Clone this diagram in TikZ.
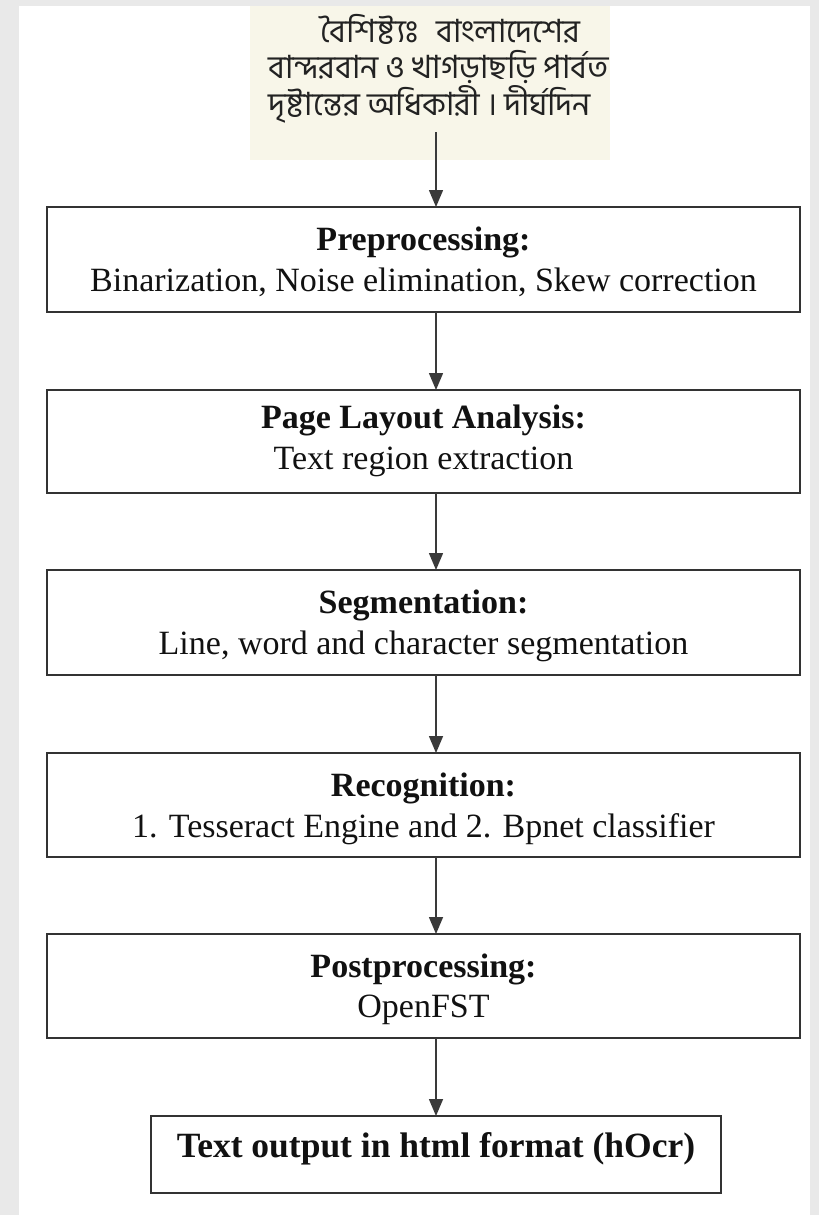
\documentclass[tikz,border=0pt]{standalone}
\usepackage{fontspec}
\setmainfont{Liberation Serif}
\newfontfamily\bnfont[Script=Bengali]{Hind Siliguri}
\usetikzlibrary{arrows.meta}
\definecolor{bggray}{HTML}{E9E9E9}
\definecolor{beige}{HTML}{F8F6E9}
\definecolor{boxline}{HTML}{333333}
\definecolor{arrline}{HTML}{3A3A3A}
\definecolor{txt}{HTML}{111111}
\definecolor{bntxt}{HTML}{222222}
\tikzset{
  stagebox/.style={draw=boxline, line width=2pt, inner sep=0pt, outer sep=0pt,
    anchor=north west, minimum width=753pt},
  titletext/.style={anchor=base, inner sep=0pt, text=txt,
    font=\fontsize{34}{40}\selectfont\bfseries},
  bodytext/.style={anchor=base, inner sep=0pt, text=txt,
    font=\fontsize{34}{40}\selectfont},
  bntext/.style={anchor=base west, inner sep=0pt, text=bntxt,
    font=\fontsize{32}{36}\bnfont},
  flowarrow/.style={draw=arrline, line width=1.5pt,
    -{Triangle[length=17pt,width=14pt]}},
}
\begin{document}
\begin{tikzpicture}[x=1pt,y=-1pt]
\useasboundingbox (0,0) rectangle (819,1215);
\fill[bggray] (0,0) rectangle (819,1215);
\fill[white] (19,6) rectangle (810,1215);

% source image
\node[fill=beige, inner sep=0pt, anchor=north west, minimum width=360pt, minimum height=154pt] (src) at (250,6) {};
\node[bntext] (bn1) at (320,43) {বৈশিষ্ট্যঃ\hspace{10pt} বাংলাদেশের};
\node[bntext] (bn2) at (268,78) {বান্দরবান ও খাগড়াছড়ি পার্বত};
\node[bntext] (bn3) at (268,115) {দৃষ্টান্তের অধিকারী । দীর্ঘদিন};
\coordinate (a0) at (436,132);
\coordinate (ax) at (436,0);

% boxes
\node[stagebox, minimum height=105pt] (b1) at (47,207) {};
\node[titletext] (t1) at (423.5,250) {Preprocessing:};
\node[bodytext] (d1) at (423.5,291) {Binarization, Noise elimination, Skew correction};

\node[stagebox, minimum height=103pt] (b2) at (47,390) {};
\node[titletext] (t2) at (423.5,428) {Page Layout Analysis:};
\node[bodytext] (d2) at (423.5,469) {Text region extraction};

\node[stagebox, minimum height=105pt] (b3) at (47,570) {};
\node[titletext] (t3) at (423.5,613) {Segmentation:};
\node[bodytext] (d3) at (423.5,654) {Line, word and character segmentation};

\node[stagebox, minimum height=104pt] (b4) at (47,753) {};
\node[titletext] (t4) at (423.5,796) {Recognition:};
\node[bodytext] (d4) at (423.5,837) {1. Tesseract Engine and 2. Bpnet classifier};

\node[stagebox, minimum height=104pt] (b5) at (47,934) {};
\node[titletext] (t5) at (423.5,977) {Postprocessing:};
\node[bodytext] (d5) at (423.5,1017) {OpenFST};

\node[stagebox, minimum width=570pt, minimum height=77pt] (b6) at (151,1116) {};
\node[titletext, font=\fontsize{35.5}{40}\selectfont\bfseries] (t6) at (436,1157) {Text output in html format (hOcr)};

% arrows
\draw[flowarrow] (a0) -- (b1.north -| ax);
\draw[flowarrow] (b1.south -| ax) -- (b2.north -| ax);
\draw[flowarrow] (b2.south -| ax) -- (b3.north -| ax);
\draw[flowarrow] (b3.south -| ax) -- (b4.north -| ax);
\draw[flowarrow] (b4.south -| ax) -- (b5.north -| ax);
\draw[flowarrow] (b5.south -| ax) -- (b6.north -| ax);
\end{tikzpicture}
\end{document}
